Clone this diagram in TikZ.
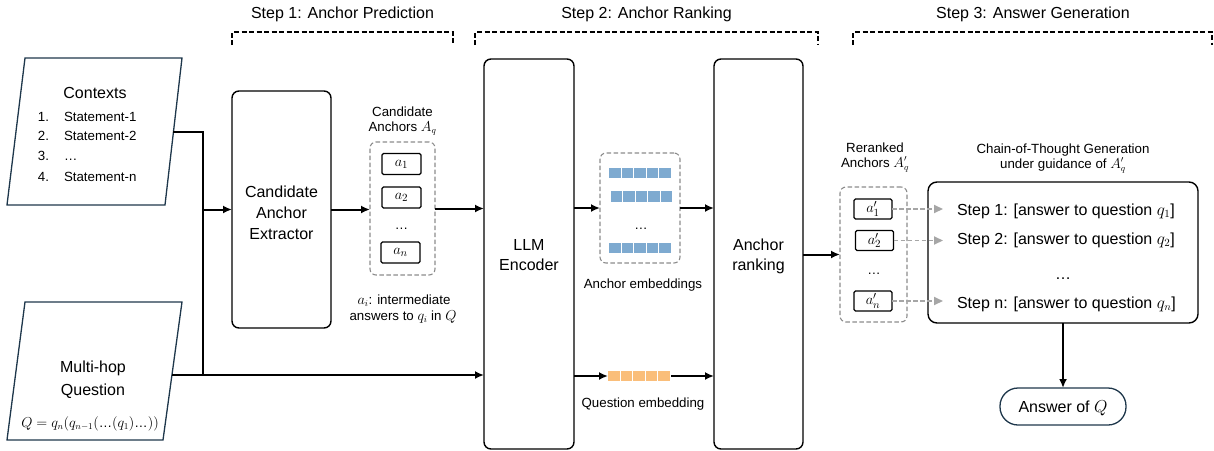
\documentclass[tikz,border=0pt]{standalone}
\usepackage{fontspec}
\setmainfont{Liberation Sans}
\usetikzlibrary{arrows.meta}

\definecolor{slate}{RGB}{30,55,75}
\definecolor{embblue}{RGB}{126,170,208}
\definecolor{embor}{RGB}{250,190,122}

\begin{document}
\begin{tikzpicture}[x=1pt,y=-1pt,
  every node/.style={inner sep=0pt, outer sep=0pt},
  big/.style={font=\fontsize{16}{19}\selectfont},
  small/.style={font=\fontsize{13.3}{16}\selectfont},
  box/.style={draw, line width=1.4pt, rounded corners=7pt},
  dbox/.style={draw=black!45, line width=1.1pt, dash pattern=on 4.5pt off 2.5pt, rounded corners=6pt},
  abox/.style={draw, line width=1.2pt, rounded corners=1.5pt, minimum width=39pt, minimum height=21pt, font=\fontsize{15}{17}\selectfont},
  arr/.style={line width=2pt, -{Latex[length=9pt,width=8pt]}},
  link/.style={line width=2pt},
  garr/.style={draw=black!35, line width=1.8pt, dash pattern=on 4.5pt off 2.5pt, -{Triangle[length=9pt,width=8pt,fill=black!35]}},
  bracket/.style={line width=1.8pt, dash pattern=on 5pt off 2.5pt},
  para/.style={draw=slate, line width=1.3pt},
]
\useasboundingbox (0,0) rectangle (1214,450);

% ---- stage headers ----
\node[big, anchor=base] (h1) at (342.5,18) {Step 1: Anchor Prediction};
\node[big, anchor=base] (h2) at (646.5,18) {Step 2: Anchor Ranking};
\node[big, anchor=base] (h3) at (1033,18) {Step 3: Answer Generation};
\draw[bracket] (232,45) -- (232,32) -- (453,32) -- (453,45);
\draw[bracket] (475,45) -- (475,32) -- (818,32) -- (818,45);
\draw[bracket] (853,45) -- (853,32) -- (1212,32) -- (1212,45);

% ---- inputs ----
\draw[para] (25,58) -- (182,58) -- (165,205) -- (7,205) -- cycle;
\node[big, anchor=base] (ctxtitle) at (95,98.5) {Contexts};
\foreach \i/\t/\yy in {1/Statement-1/121, 2/Statement-2/140.7, 3/…/160, 4/Statement-n/181}{
  \node[small, anchor=base east] (num\i) at (49,\yy) {\i.};
  \node[small, anchor=base west] (st\i) at (64,\yy) {\t};
}
\coordinate (ctxR) at (173.4,132);

\draw[para] (25,302) -- (182,302) -- (163,440) -- (7,440) -- cycle;
\node[big, anchor=base] (mh1) at (93,372) {Multi-hop};
\node[big, anchor=base] (mh2) at (93,395) {Question};
\node[small, anchor=base] (mh3) at (90,427) {$Q=q_n(q_{n-1}(\mbox{…}(q_1)\mbox{…}))$};
\coordinate (qR) at (172,375);

% ---- step 1 ----
\node[box, minimum width=99pt, minimum height=237pt] (ext) at (281.5,209.5) {};
\node[big, anchor=base] at (281.5,197) {Candidate};
\node[big, anchor=base] at (281.5,218) {Anchor};
\node[big, anchor=base] at (281.5,239) {Extractor};

\node[small, anchor=base] (cl1) at (402.5,116) {Candidate};
\node[small, anchor=base] (cl2) at (402.5,131) {Anchors $A_q$};
\node[dbox, minimum width=65pt, minimum height=133pt] (cand) at (402.5,208.5) {};
\node[abox] (a1) at (401.5,164) {$a_1$};
\node[abox] (a2) at (401.5,197.5) {$a_2$};
\node[small, anchor=base] (adots) at (401.5,229) {…};
\node[abox] (an) at (400.5,252.5) {$a_n$};
\node[small, anchor=base] (cap1) at (404,304) {$a_i$: intermediate};
\node[small, anchor=base] (cap2) at (403,320) {answers to $q_i$ in $Q$};

% ---- step 2 ----
\node[box, minimum width=90pt, minimum height=390pt] (llm) at (529,254) {};
\node[big, anchor=base] at (529,250) {LLM};
\node[big, anchor=base] at (529,270) {Encoder};

\node[dbox, minimum width=80pt, minimum height=110pt] (emb) at (640,208) {};
\foreach \x/\y in {609/173, 610.5/196.5, 609/248}{
  \foreach \k in {0,...,4}
    \fill[embblue] (\x+\k*12.6,\y-5.4) rectangle ++(11.5,10.8);
}
\node[small, anchor=base] (edots) at (641,229) {…};
\node[small, anchor=base] (elab) at (643,288) {Anchor embeddings};

\node[minimum width=63pt, minimum height=11pt] (qemb) at (639.5,376) {};
\foreach \k in {0,...,4}
  \fill[embor] (608+\k*12.6,370.6) rectangle ++(11.5,10.8);
\node[small, anchor=base] (qlab) at (643,407) {Question embedding};

\node[box, minimum width=89pt, minimum height=390pt] (rank) at (758.5,254) {};
\node[big, anchor=base] at (758.5,250) {Anchor};
\node[big, anchor=base] at (758.5,270) {ranking};

% ---- step 3 ----
\node[small, anchor=base] (rl1) at (875,152) {Reranked};
\node[small, anchor=base] (rl2) at (875,167) {Anchors $A'_q$};
\node[dbox, minimum width=67pt, minimum height=135pt] (rer) at (873.5,254.5) {};
\node[abox, minimum width=38pt, minimum height=20pt] (b1) at (873,209) {$a'_1$};
\node[abox, minimum width=38pt, minimum height=20pt] (b2) at (874.5,240.5) {$a'_2$};
\node[small, anchor=base] (bdots) at (874,274) {…};
\node[abox, minimum width=38pt, minimum height=20pt] (bn) at (873,301) {$a'_n$};

\node[small, anchor=base] (gl1) at (1063,153) {Chain-of-Thought Generation};
\node[small, anchor=base] (gl2) at (1063,168) {under guidance of $A'_q$};
\node[box, rounded corners=9pt, minimum width=270pt, minimum height=141pt] (cot) at (1063,252.5) {};
\node[big, anchor=base west] (s1) at (957,215) {Step 1: [answer to question $q_1$]};
\node[big, anchor=base west] (s2) at (957,244) {Step 2: [answer to question $q_2$]};
\node[big, anchor=base] (sdots) at (1063,279) {…};
\node[big, anchor=base west] (sn) at (957,308) {Step n: [answer to question $q_n$]};

\node[draw=slate, line width=1.3pt, rounded corners=18pt, minimum width=126pt, minimum height=37pt] (ans) at (1063,406.5) {};
\node[big, anchor=base] at (1063,412) {Answer of $Q$};

% ---- connectors ----
\coordinate (jn) at (203,375);
\draw[link] (ctxR) -| (jn);
\draw[link] (qR) -- (jn);
\draw[arr] (jn |- ext.west) -- (ext.west);
\draw[arr] (jn) -- (llm.west |- jn);
\draw[arr] (ext.east) -- (cand.west |- ext.east);
\draw[arr] (cand.east) -- (llm.west |- cand.east);
\draw[arr] (llm.east |- emb.west) -- (emb.west);
\draw[arr] (emb.east) -- (rank.west |- emb.east);
\draw[arr] (llm.east |- qemb.west) -- (qemb.west);
\draw[arr] (qemb.east) -- (rank.west |- qemb.east);
\draw[arr] (rank.east |- rer.west) -- (rer.west);
\draw[garr] (b1.east) -- ([xshift=-14pt]b1.east -| s1.west);
\draw[garr] (b2.east) -- ([xshift=-14pt]b2.east -| s2.west);
\draw[garr] (bn.east) -- ([xshift=-14pt]bn.east -| sn.west);
\draw[arr] (cot.south) -- (ans.north);
\end{tikzpicture}
\end{document}
